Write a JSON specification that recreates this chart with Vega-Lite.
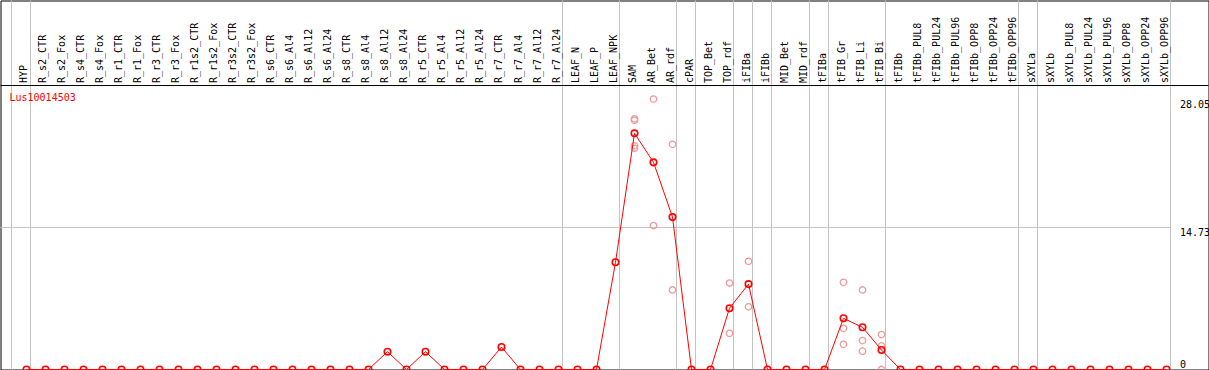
{
  "$schema": "https://vega.github.io/schema/vega-lite/v6.json",
  "width": 1208,
  "height": 369,
  "autosize": {"type": "none"},
  "padding": {"left": 0.5, "top": 0.5, "right": 0.5, "bottom": 0.5},
  "background": "white",
  "config": {"view": {"stroke": "black", "strokeWidth": 1}},
  "datasets": {
    "means": [
      {"idx": 0, "sample": "HYP", "value": 0},
      {"idx": 1, "sample": "R_s2_CTR", "value": 0},
      {"idx": 2, "sample": "R_s2_Fox", "value": 0},
      {"idx": 3, "sample": "R_s4_CTR", "value": 0},
      {"idx": 4, "sample": "R_s4_Fox", "value": 0},
      {"idx": 5, "sample": "R_r1_CTR", "value": 0},
      {"idx": 6, "sample": "R_r1_Fox", "value": 0},
      {"idx": 7, "sample": "R_r3_CTR", "value": 0},
      {"idx": 8, "sample": "R_r3_Fox", "value": 0},
      {"idx": 9, "sample": "R_r1s2_CTR", "value": 0},
      {"idx": 10, "sample": "R_r1s2_Fox", "value": 0},
      {"idx": 11, "sample": "R_r3s2_CTR", "value": 0},
      {"idx": 12, "sample": "R_r3s2_Fox", "value": 0},
      {"idx": 13, "sample": "R_s6_CTR", "value": 0},
      {"idx": 14, "sample": "R_s6_Al4", "value": 0},
      {"idx": 15, "sample": "R_s6_Al12", "value": 0},
      {"idx": 16, "sample": "R_s6_Al24", "value": 0},
      {"idx": 17, "sample": "R_s8_CTR", "value": 0},
      {"idx": 18, "sample": "R_s8_Al4", "value": 0},
      {"idx": 19, "sample": "R_s8_Al12", "value": 1.85},
      {"idx": 20, "sample": "R_s8_Al24", "value": 0},
      {"idx": 21, "sample": "R_r5_CTR", "value": 1.85},
      {"idx": 22, "sample": "R_r5_Al4", "value": 0},
      {"idx": 23, "sample": "R_r5_Al12", "value": 0},
      {"idx": 24, "sample": "R_r5_Al24", "value": 0},
      {"idx": 25, "sample": "R_r7_CTR", "value": 2.33},
      {"idx": 26, "sample": "R_r7_Al4", "value": 0},
      {"idx": 27, "sample": "R_r7_Al12", "value": 0},
      {"idx": 28, "sample": "R_r7_Al24", "value": 0},
      {"idx": 29, "sample": "LEAF_N", "value": 0},
      {"idx": 30, "sample": "LEAF_P", "value": 0},
      {"idx": 31, "sample": "LEAF_NPK", "value": 11.12},
      {"idx": 32, "sample": "SAM", "value": 24.5},
      {"idx": 33, "sample": "AR_Bet", "value": 21.49},
      {"idx": 34, "sample": "AR_rdf", "value": 15.81},
      {"idx": 35, "sample": "cPAR", "value": 0},
      {"idx": 36, "sample": "TOP_Bet", "value": 0},
      {"idx": 37, "sample": "TOP_rdf", "value": 6.36},
      {"idx": 38, "sample": "iFIBa", "value": 8.86},
      {"idx": 39, "sample": "iFIBb", "value": 0},
      {"idx": 40, "sample": "MID_Bet", "value": 0},
      {"idx": 41, "sample": "MID_rdf", "value": 0},
      {"idx": 42, "sample": "tFIBa", "value": 0},
      {"idx": 43, "sample": "tFIB_Gr", "value": 5.31},
      {"idx": 44, "sample": "tFIB_Li", "value": 4.38},
      {"idx": 45, "sample": "tFIB_Bi", "value": 2.02},
      {"idx": 46, "sample": "tFIBb", "value": 0},
      {"idx": 47, "sample": "tFIBb_PUL8", "value": 0},
      {"idx": 48, "sample": "tFIBb_PUL24", "value": 0},
      {"idx": 49, "sample": "tFIBb_PUL96", "value": 0},
      {"idx": 50, "sample": "tFIBb_OPP8", "value": 0},
      {"idx": 51, "sample": "tFIBb_OPP24", "value": 0},
      {"idx": 52, "sample": "tFIBb_OPP96", "value": 0},
      {"idx": 53, "sample": "sXYLa", "value": 0},
      {"idx": 54, "sample": "sXYLb", "value": 0},
      {"idx": 55, "sample": "sXYLb_PUL8", "value": 0},
      {"idx": 56, "sample": "sXYLb_PUL24", "value": 0},
      {"idx": 57, "sample": "sXYLb_PUL96", "value": 0},
      {"idx": 58, "sample": "sXYLb_OPP8", "value": 0},
      {"idx": 59, "sample": "sXYLb_OPP24", "value": 0},
      {"idx": 60, "sample": "sXYLb_OPP96", "value": 0}
    ],
    "reps": [
      {"idx": 32, "value": 26.0},
      {"idx": 32, "value": 25.85},
      {"idx": 32, "value": 23.2},
      {"idx": 32, "value": 22.95},
      {"idx": 33, "value": 28.05},
      {"idx": 33, "value": 14.93},
      {"idx": 34, "value": 23.36},
      {"idx": 34, "value": 8.25},
      {"idx": 37, "value": 8.97},
      {"idx": 37, "value": 3.75},
      {"idx": 38, "value": 11.22},
      {"idx": 38, "value": 6.5},
      {"idx": 43, "value": 9.04},
      {"idx": 43, "value": 4.27},
      {"idx": 43, "value": 2.61},
      {"idx": 44, "value": 8.25},
      {"idx": 44, "value": 3.0},
      {"idx": 44, "value": 1.9},
      {"idx": 45, "value": 3.62},
      {"idx": 45, "value": 2.45},
      {"idx": 45, "value": 0}
    ],
    "seps": [
      {"after": -1}, {"after": 0}, {"after": 28}, {"after": 31}, {"after": 34},
      {"after": 35}, {"after": 37}, {"after": 38}, {"after": 39}, {"after": 41},
      {"after": 42}, {"after": 45}, {"after": 52}, {"after": 53}, {"after": 60}
    ],
    "one": [{"gene": "Lus10014503"}]
  },
  "layer": [
    {
      "data": {"name": "seps"},
      "mark": {"type": "rule", "color": "#c4c4c4", "strokeWidth": 1, "xOffset": 4},
      "encoding": {
        "x": {"field": "after", "type": "quantitative", "scale": {"domain": [-1.3684, 62.2105], "nice": false, "zero": false}, "axis": null}
      }
    },
    {
      "data": {"name": "one"},
      "mark": {"type": "rule", "color": "#c4c4c4", "strokeWidth": 1},
      "encoding": {
        "x": {"datum": -1.3684, "type": "quantitative"},
        "x2": {"datum": 60.21},
        "y": {"datum": 14.73, "type": "quantitative"}
      }
    },
    {
      "data": {"name": "one"},
      "mark": {"type": "rule", "color": "black", "strokeWidth": 1},
      "encoding": {
        "y": {"datum": 29.46, "type": "quantitative"}
      }
    },
    {
      "data": {"name": "reps"},
      "mark": {"type": "point", "shape": "circle", "filled": false, "color": "#f09a9a", "size": 42, "strokeWidth": 1.3, "opacity": 1},
      "encoding": {
        "x": {"field": "idx", "type": "quantitative"},
        "y": {"field": "value", "type": "quantitative"}
      }
    },
    {
      "data": {"name": "means"},
      "mark": {"type": "line", "color": "#ff0000", "strokeWidth": 1},
      "encoding": {
        "x": {"field": "idx", "type": "quantitative"},
        "y": {"field": "value", "type": "quantitative"}
      }
    },
    {
      "data": {"name": "means"},
      "mark": {"type": "point", "shape": "circle", "filled": false, "color": "#ff0000", "size": 42, "strokeWidth": 1.6, "opacity": 1},
      "encoding": {
        "x": {"field": "idx", "type": "quantitative"},
        "y": {
          "field": "value", "type": "quantitative",
          "scale": {"domain": [0, 38.28], "nice": false, "zero": false},
          "axis": {
            "orient": "right", "title": null, "values": [0, 14.73, 28.05],
            "labelExpr": "'' + datum.value",
            "domain": false, "ticks": false, "tickSize": 0, "grid": false,
            "labelPadding": -29, "labelAlign": "left",
            "labelBaseline": {"condition": {"test": "datum.value == 0", "value": "bottom"}, "value": "top"},
            "labelFont": "DejaVu Sans Mono", "labelFontSize": 10, "labelColor": "black",
            "labelBound": false, "labelOverlap": false, "labelFlush": false
          }
        }
      }
    },
    {
      "data": {"name": "means"},
      "mark": {"type": "text", "angle": 270, "align": "left", "baseline": "alphabetic", "dy": 1, "font": "DejaVu Sans Mono", "fontSize": 10, "color": "black"},
      "encoding": {
        "x": {"field": "idx", "type": "quantitative"},
        "y": {"datum": 29.72, "type": "quantitative"},
        "text": {"field": "sample"}
      }
    },
    {
      "data": {"name": "one"},
      "mark": {"type": "text", "align": "left", "baseline": "alphabetic", "font": "DejaVu Sans Mono", "fontSize": 10, "color": "#ff0000"},
      "encoding": {
        "x": {"datum": -0.895, "type": "quantitative"},
        "y": {"datum": 27.85, "type": "quantitative"},
        "text": {"field": "gene"}
      }
    }
  ]
}
